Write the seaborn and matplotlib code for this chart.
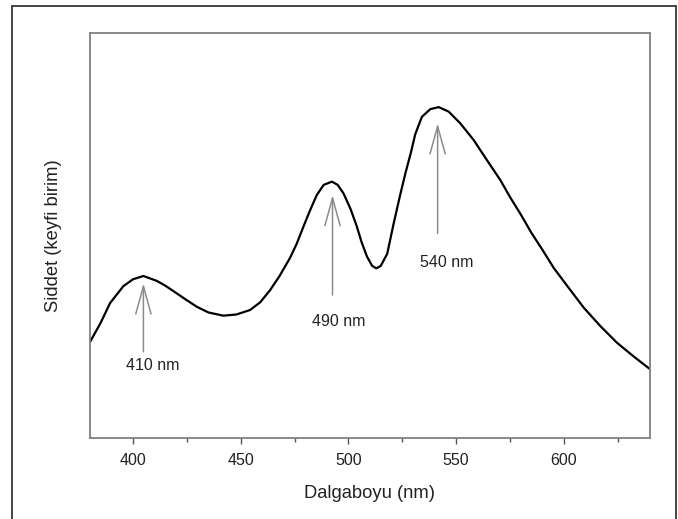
import matplotlib
matplotlib.use("Agg")
import matplotlib.pyplot as plt
import matplotlib.patches as mpatches
from matplotlib.ticker import MultipleLocator, NullLocator
import seaborn as sns
import pandas as pd

# --- data ---
wavelength = [380, 385, 389.3, 395.5, 400, 404.8, 411, 415, 420.3, 425, 429.6, 435,
              441.9, 448, 454.3, 459, 463.6, 468, 472.9, 476, 479.1, 482, 485.3,
              488.5, 492.3, 495, 497.7, 501, 503.9, 506, 508.6, 511, 512.9, 515,
              518, 521, 524, 526.5, 529, 531, 534.1, 538, 541.9, 546.5, 551.9,
              558.1, 564.3, 570.5, 575, 580, 585, 589.9, 595.3, 601.5, 609.2,
              617, 624.7, 632.5, 640]
intensity = [23.7, 28.5, 33.3, 37.5, 39.2, 40.0, 38.8, 37.6, 35.7, 34.0, 32.4, 31.0,
             30.2, 30.5, 31.6, 33.5, 36.5, 40.0, 44.5, 48.0, 52.2, 56.0, 60.0,
             62.5, 63.3, 62.5, 60.4, 56.5, 52.2, 48.5, 44.8, 42.5, 41.9, 42.5,
             45.5, 53.0, 60.0, 65.5, 70.5, 75.0, 79.3, 81.2, 81.7, 80.6, 77.7,
             73.6, 68.6, 63.7, 59.5, 55.2, 50.6, 46.6, 42.0, 37.6, 32.2,
             27.6, 23.5, 20.1, 17.0]

peak_labels = ["410 nm", "490 nm", "540 nm"]
arrow_x = [404.8, 492.6, 541.4]
arrow_tip = [38.2, 60.0, 77.7]
arrow_tail = [21.3, 35.3, 50.5]
label_x = [409.3, 495.4, 545.7]
label_y = [17.8, 28.7, 43.3]

x_ticks = [400, 450, 500, 550, 600]

df = pd.DataFrame({"Dalgaboyu": wavelength, "Siddet": intensity})

sns.set_style("white")
plt.rcParams["font.family"] = ["Liberation Sans", "DejaVu Sans"]

fig = plt.figure(figsize=(6.78, 5.19), dpi=100)
ax = fig.add_axes([90 / 678, 81 / 519, 560 / 678, 405 / 519])

sns.lineplot(data=df, x="Dalgaboyu", y="Siddet", ax=ax, color="black",
             linewidth=1.6, sort=False, estimator=None)

for lab, ax_x, tip, tail, lx, ly in zip(peak_labels, arrow_x, arrow_tip, arrow_tail, label_x, label_y):
    ax.annotate("", xy=(ax_x, tip), xytext=(ax_x, tail),
                arrowprops=dict(arrowstyle="->,head_length=2.0,head_width=0.55",
                                color="#8c8c8c", lw=1.1, shrinkA=0, shrinkB=0,
                                mutation_scale=10))
    ax.text(lx, ly, lab, ha="center", va="center", fontsize=11.5, color="#222222")

ax.set_xlim(380, 640)
ax.set_ylim(0, 100)
ax.set_xticks(x_ticks)
ax.xaxis.set_minor_locator(MultipleLocator(25))
ax.yaxis.set_major_locator(NullLocator())
ax.tick_params(axis="x", which="major", direction="out", length=4, width=1,
               color="#555555", labelsize=11.5, pad=7, labelcolor="#222222", bottom=True)
ax.tick_params(axis="x", which="minor", direction="out", length=3, width=1,
               color="#555555", bottom=True)

for sp in ax.spines.values():
    sp.set_color("#808080")
    sp.set_linewidth(1.3)

ax.set_xlabel("Dalgaboyu (nm)", fontsize=13.2, labelpad=12, color="#222222")
ax.set_ylabel("Siddet (keyfi birim)", fontsize=13.2, labelpad=20, color="#222222")

# outer frame of the figure (bottom edge lies outside the image)
frame = mpatches.Rectangle((12 / 678, -0.05), (676 - 12) / 678, 1 - 6 / 519 + 0.05,
                           transform=fig.transFigure, fill=False,
                           edgecolor="#444444", linewidth=1.4, clip_on=False)
fig.patches.append(frame)

fig.savefig("out.png", dpi=100)
